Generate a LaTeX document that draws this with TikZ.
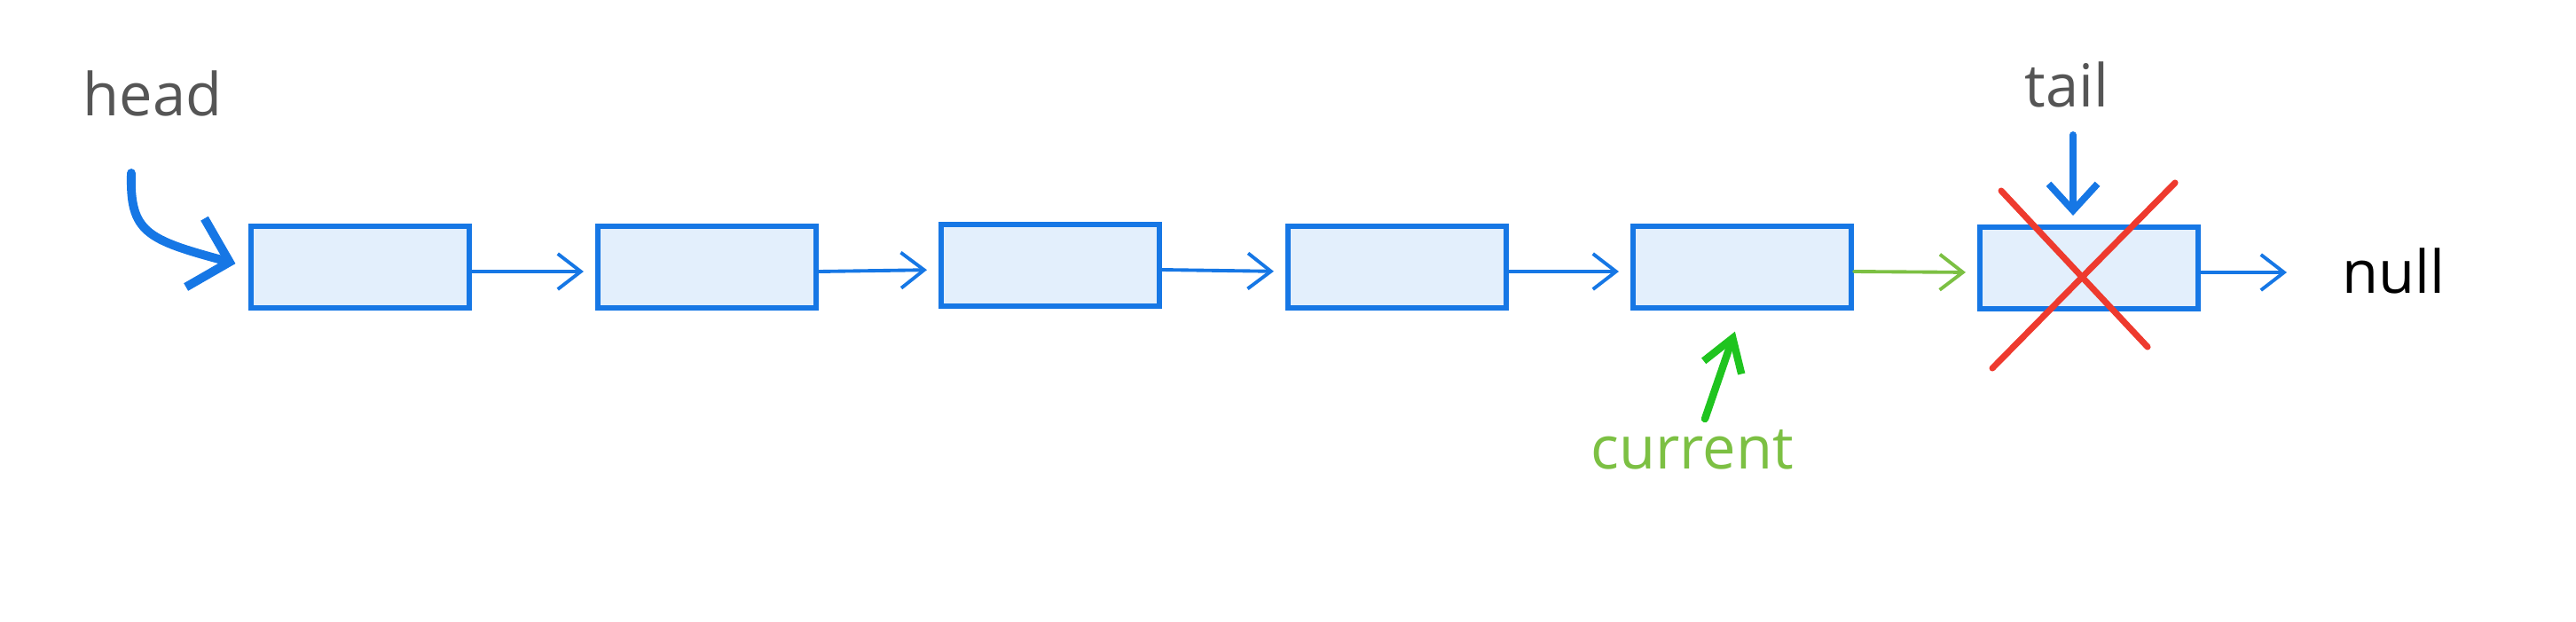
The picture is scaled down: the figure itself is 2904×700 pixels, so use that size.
\documentclass[tikz,border=0pt]{standalone}
\usepackage{fontspec}
\setmainfont{Open Sans}
\usetikzlibrary{arrows.meta}
\definecolor{boxblue}{HTML}{1677E5}
\definecolor{boxfill}{HTML}{E3EFFC}
\definecolor{xred}{HTML}{EE3A2E}
\definecolor{lgreen}{HTML}{7CC043}
\definecolor{bgreen}{HTML}{1FC41F}
\definecolor{txtgray}{HTML}{555555}
\begin{document}
\begin{tikzpicture}[x=0.01cm,y=-0.01cm,
  box/.style={draw=boxblue, fill=boxfill, line width=1.7pt, minimum width=2.46cm, minimum height=0.92cm, inner sep=0pt},
  link/.style={draw=boxblue, line width=1.1pt, line cap=round, -{Straight Barb[length=0.26cm,width=0.40cm]}, shorten >=0.13cm},
  greenlink/.style={link, draw=lgreen},
  lbl/.style={font=\fontsize{19}{22}\selectfont, anchor=base west, inner sep=0pt},
  headarr/.style={draw=boxblue, line width=2.8pt, line cap=round, -{Straight Barb[length=0.4cm,width=0.8cm]}},
  tailarr/.style={draw=boxblue, line width=2.2pt, line cap=round, -{Straight Barb[length=0.3cm,width=0.55cm]}},
  curarr/.style={draw=bgreen, line width=2.4pt, line cap=round, -{Straight Barb[length=0.35cm,width=0.45cm]}},
  xline/.style={draw=xred, line width=2pt, line cap=round}]
\useasboundingbox (0,0) rectangle (2904,700);
% nodes
\node[box] (n1) at (406,301) {};
\node[box] (n2) at (797,301) {};
\node[box] (n3) at (1184,299) {};
\node[box] (n4) at (1575,301) {};
\node[box] (n5) at (1964,301) {};
\node[box] (n6) at (2355,302) {};
% labels
\node[lbl, text=txtgray] (head) at (93,130) {head};
\node[lbl, text=txtgray] (tail) at (2282,120) {tail};
\node[lbl, text=black] (nul) at (2640,330) {null};
\node[lbl, text=lgreen] (cur) at (1793,528) {current};
% links
\draw[link] ([yshift=-0.05cm]n1.east) -- ([yshift=-0.05cm]n2.west);
\draw[link] ([yshift=-0.05cm]n2.east) -- ([yshift=-0.05cm]n3.west);
\draw[link] ([yshift=-0.05cm]n3.east) -- ([yshift=-0.05cm]n4.west);
\draw[link] ([yshift=-0.05cm]n4.east) -- ([yshift=-0.05cm]n5.west);
\draw[greenlink] ([yshift=-0.05cm]n5.east) -- ([yshift=-0.05cm]n6.west);
\draw[link, shorten >=0.62cm] ([yshift=-0.05cm]n6.east) -- ([yshift=-0.05cm]n6.east -| nul.west);
% head pointer
\coordinate (hs) at (148,195);
\draw[headarr, shorten >=0.15cm] (hs) .. controls (146,262) and (165,270) .. (n1.west);
% tail pointer
\coordinate (ts) at (2337,152);
\draw[tailarr, shorten >=0.1cm] (ts) -- (ts |- n6.north);
% current pointer
\coordinate (cs) at (1922,472);
\draw[curarr, shorten >=0.25cm] (cs) -- (n5.south);
% red cross
\draw[xline] (2256,215) -- (2421,391);
\draw[xline] (2452,206) -- (2246,415);
\end{tikzpicture}
\end{document}
